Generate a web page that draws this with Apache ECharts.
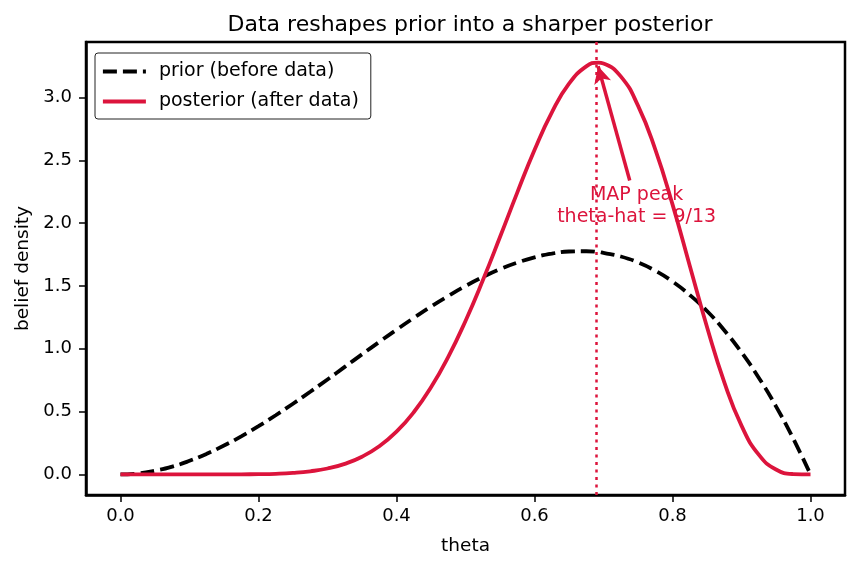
<!DOCTYPE html>
<html>
<head>
<meta charset="utf-8">
<script src="https://cdn.jsdelivr.net/npm/echarts@6/dist/echarts.min.js"></script>
<style>
html,body{margin:0;padding:0;background:#fff;}
#chart{width:859px;height:569px;}
</style>
</head>
<body>
<div id="chart"></div>
<script>
// theta grid and densities
var thetaGrid = [0, 0.025, 0.05, 0.075, 0.1, 0.125, 0.15, 0.175, 0.2, 0.225, 0.25, 0.275, 0.3, 0.325, 0.35, 0.375, 0.4, 0.425, 0.45, 0.475, 0.5,
	0.525, 0.55, 0.575, 0.6, 0.625, 0.65, 0.675, 0.6923, 0.7, 0.725, 0.75, 0.775, 0.8, 0.825, 0.85, 0.875, 0.9, 0.925, 0.95, 0.975, 1.0];
var priorDensity = [0, 0.007, 0.029, 0.062, 0.108, 0.164, 0.230, 0.303, 0.384, 0.471, 0.563, 0.658, 0.756, 0.856, 0.956, 1.055, 1.152, 1.246, 1.337, 1.421, 1.500,
	1.571, 1.634, 1.686, 1.728, 1.758, 1.775, 1.777, 1.772, 1.764, 1.735, 1.688, 1.622, 1.536, 1.429, 1.301, 1.148, 0.972, 0.770, 0.542, 0.285, 0];
var posteriorDensity = [0, 0, 0, 0, 0, 0, 0.0002, 0.0007, 0.002, 0.005, 0.012, 0.025, 0.047, 0.084, 0.141, 0.224, 0.340, 0.495, 0.693, 0.936, 1.222,
	1.544, 1.890, 2.244, 2.583, 2.881, 3.111, 3.249, 3.279, 3.272, 3.169, 2.936, 2.588, 2.150, 1.662, 1.174, 0.735, 0.388, 0.157, 0.039, 0.003, 0];
var xTicks = [0, 0.2, 0.4, 0.6, 0.8, 1.0];
var yTicks = [0, 0.5, 1.0, 1.5, 2.0, 2.5, 3.0];
var mapTheta = 0.6923;
var arrowTail = [0.738, 2.34];
var arrowHead = [0.6922, 3.25];
var notePos = [0.748, 2.14];

var crimson = '#dc143c';
var font = 'DejaVu Sans';

function pairs(xs, ys){
	var out = [];
	for(var i=0;i<xs.length;i++){
		out.push([xs[i], ys[i]]);
	}
	return out;
}

var chart = echarts.init(document.getElementById('chart'));
var option = {
	animation: false,
	backgroundColor: '#fff',
	title: {
		text: 'Data reshapes prior into a sharper posterior',
		left: 465,
		top: 9,
		textAlign: 'center',
		textStyle: {fontFamily: font, fontSize: 22, fontWeight: 'normal', color: '#000'}
	},
	legend: {
		orient: 'vertical',
		left: 95,
		top: 53,
		padding: [9, 12, 8, 6],
		itemGap: 11,
		itemWidth: 43,
		itemHeight: 18,
		backgroundColor: '#fff',
		borderColor: '#222',
		borderWidth: 1,
		borderRadius: 3,
		itemStyle: {color: 'rgba(0,0,0,0)', borderWidth: 0, opacity: 0},
		lineStyle: {width: 3.8},
		textStyle: {fontFamily: font, fontSize: 19, color: '#000', padding: [0, 0, 0, 8]},
		data: ['prior (before data)', 'posterior (after data)']
	},
	grid: {
		left: 86, right: 14, top: 42, bottom: 74,
		show: true,
		borderColor: '#000',
		borderWidth: 2.5,
		backgroundColor: '#fff'
	},
	xAxis: {
		type: 'value',
		min: -0.05,
		max: 1.05,
		name: 'theta',
		nameLocation: 'middle',
		nameGap: 42,
		nameTextStyle: {fontFamily: font, fontSize: 18.5, color: '#000'},
		splitLine: {show: false},
		axisLine: {onZero: false, lineStyle: {color: '#000', width: 2.5}},
		axisTick: {show: true, length: 7, lineStyle: {color: '#000', width: 1.5}, customValues: xTicks},
		axisLabel: {fontFamily: font, fontSize: 18, color: '#000', margin: 12, customValues: xTicks,
			formatter: function(v){ return v.toFixed(1); }}
	},
	yAxis: {
		type: 'value',
		min: -0.164,
		max: 3.443,
		name: 'belief density',
		nameLocation: 'middle',
		nameGap: 52,
		nameTextStyle: {fontFamily: font, fontSize: 18.5, color: '#000'},
		splitLine: {show: false},
		axisLine: {show: true, onZero: false, lineStyle: {color: '#000', width: 2.5}},
		axisTick: {show: true, length: 7, lineStyle: {color: '#000', width: 1.5}, customValues: yTicks},
		axisLabel: {fontFamily: font, fontSize: 18, color: '#000', margin: 14, customValues: yTicks,
			formatter: function(v){ return v.toFixed(1); }}
	},
	series: [
		{
			name: 'prior (before data)',
			type: 'line',
			smooth: true,
			symbol: 'none',
			color: '#000',
			lineStyle: {color: '#000', width: 3.8, type: [14, 6]},
			data: pairs(thetaGrid, priorDensity),
			z: 2
		},
		{
			name: 'posterior (after data)',
			type: 'line',
			smooth: true,
			symbol: 'none',
			color: crimson,
			lineStyle: {color: crimson, width: 3.8},
			data: pairs(thetaGrid, posteriorDensity),
			z: 3,
			markLine: {
				silent: true,
				animation: false,
				symbol: ['none', 'none'],
				label: {show: false},
				data: [
					{xAxis: mapTheta, lineStyle: {color: crimson, width: 2.5, type: [3, 4.5]}},
					[
						{coord: arrowTail, symbol: 'none', lineStyle: {color: crimson, width: 3.5, type: 'solid'}},
						{coord: arrowHead, symbol: 'arrow', symbolSize: [13, 17]}
					]
				]
			},
			markPoint: {
				silent: true,
				symbol: 'circle',
				symbolSize: 1,
				itemStyle: {color: 'rgba(0,0,0,0)'},
				data: [{
					coord: notePos,
					label: {
						show: true,
						position: 'inside',
						formatter: 'MAP peak\ntheta-hat = 9/13',
						fontFamily: font,
						fontSize: 19,
						lineHeight: 22,
						align: 'center',
						verticalAlign: 'middle',
						color: crimson
					}
				}]
			}
		}
	]
};
chart.setOption(option);
</script>
</body>
</html>
